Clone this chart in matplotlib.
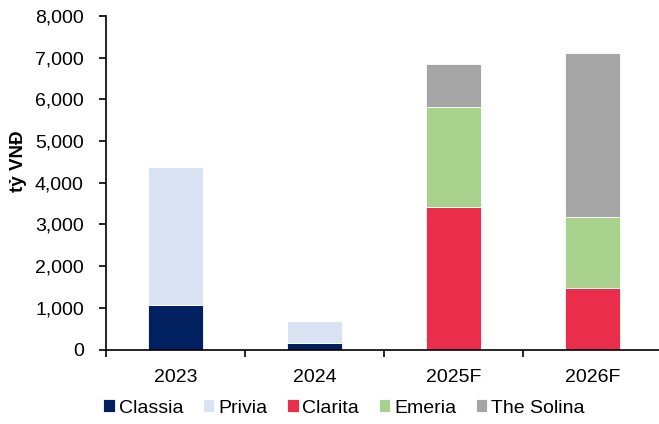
import matplotlib.pyplot as plt
import numpy as np

plt.rcParams['font.family'] = ['Liberation Sans', 'DejaVu Sans']

years = ["2023", "2024", "2025F", "2026F"]
classia = [1070, 165, 0, 0]
privia = [3300, 525, 0, 0]
clarita = [0, 0, 3425, 1480]
emeria = [0, 0, 2385, 1700]
solina = [0, 0, 1045, 3925]

series = [("Classia", classia, "#002060"),
          ("Privia", privia, "#DAE3F3"),
          ("Clarita", clarita, "#EA2D4A"),
          ("Emeria", emeria, "#A9D18E"),
          ("The Solina", solina, "#A5A5A5")]

fig = plt.figure(figsize=(6.59, 4.24), dpi=100)
ax = fig.add_axes([106/659, 1-349.5/424, 1-106/659, (349.5-16)/424])

x = np.arange(len(years))
bottom = np.zeros(len(years))
for name, vals, color in series:
    ax.bar(x, vals, 0.4, bottom=bottom, color=color, label=name,
           edgecolor="white", linewidth=0.6)
    bottom += np.array(vals)

ax.set_ylim(0, 8000)
ax.set_xlim(-0.5, 3.48)
ax.set_yticks(range(0, 8001, 1000))
ax.set_yticklabels([f"{v:,}" for v in range(0, 8001, 1000)])
ax.set_xticks(x)
ax.set_xticklabels(years)
ax.set_xticks([-0.5, 0.5, 1.5, 2.5], minor=True)
ax.tick_params(axis="x", which="major", length=0, pad=14, labelsize=14)
ax.tick_params(axis="x", which="minor", length=5, width=1.2, direction="out")
ax.tick_params(axis="y", length=5, width=1.2, labelsize=14, pad=11)
ax.spines["top"].set_visible(False)
ax.spines["right"].set_visible(False)
ax.spines["left"].set_linewidth(1.2)
ax.spines["bottom"].set_linewidth(1.2)
ax.set_ylabel("tỷ VNĐ", fontsize=13.5, fontweight="bold")
ax.yaxis.set_label_coords(-0.143, 0.565)

fig.legend(loc="center", bbox_to_anchor=(0.522, 1-408/424),
           ncol=5, frameon=False, fontsize=14, handlelength=0.6, handleheight=0.6,
           handletextpad=0.2, columnspacing=1.0)

fig.savefig("out.png", dpi=100)
